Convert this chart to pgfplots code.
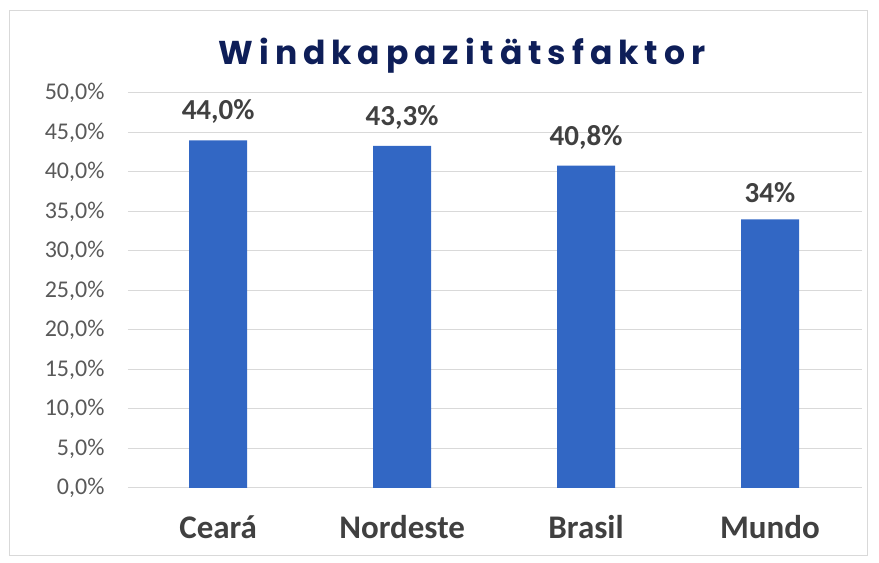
\documentclass[border=0pt]{standalone}
\usepackage{pgfplots}
\pgfplotsset{compat=1.18}
\usepackage{fontspec}
\setmainfont{Carlito}
\newfontfamily\titlefont[LetterSpace=18]{Poppins}
\definecolor{barblue}{RGB}{50,103,196}
\definecolor{navy}{RGB}{14,30,88}
\definecolor{ticktxt}{RGB}{89,89,89}
\definecolor{lbltxt}{RGB}{64,64,64}
\definecolor{gridc}{RGB}{217,217,217}

\begin{document}
\begin{tikzpicture}
\begin{axis}[
  scale only axis, width=734pt, height=395pt,
  xmin=-0.49, xmax=3.5, ymin=0, ymax=50,
  ytick={0,5,...,50}, xtick=data,
  xticklabels={Ceará,Nordeste,Brasil,Mundo},
  yticklabel={\pgfmathprintnumber[fixed,fixed zerofill,precision=1,use comma]{\tick}\%},
  /pgf/number format/assume math mode=true,
  yticklabel style={font=\fontsize{24}{26}\selectfont, text=ticktxt, xshift=-20pt},
  xticklabel style={font=\fontsize{33}{36}\selectfont\bfseries, text=lbltxt, yshift=-24pt},
  axis line style={draw=none}, tick style={draw=none},
  ymajorgrids, grid style={gridc, line width=1pt},
  clip=false,
  ]
\addplot[ybar, bar width=58pt, fill=barblue, draw=none,
  point meta=explicit symbolic,
  nodes near coords,
  nodes near coords style={font=\fontsize{29}{31}\selectfont\bfseries, text=lbltxt, anchor=south, yshift=13pt}]
  coordinates {(0,44.0) [44,0\%] (1,43.3) [43,3\%] (2,40.8) [40,8\%] (3,34.0) [34\%]};
\draw[gridc, line width=1pt] (rel axis cs:-0.161,-0.170) rectangle (rel axis cs:1.008,1.210);
\path (rel axis cs:-0.1744,-0.1899) rectangle (rel axis cs:1.0232,1.2354);
\node[font=\titlefont\bfseries\fontsize{33}{36}\selectfont, text=navy] at (rel axis cs:0.455,1.095) {Windkapazitätsfaktor};
\end{axis}
\end{tikzpicture}
\end{document}
